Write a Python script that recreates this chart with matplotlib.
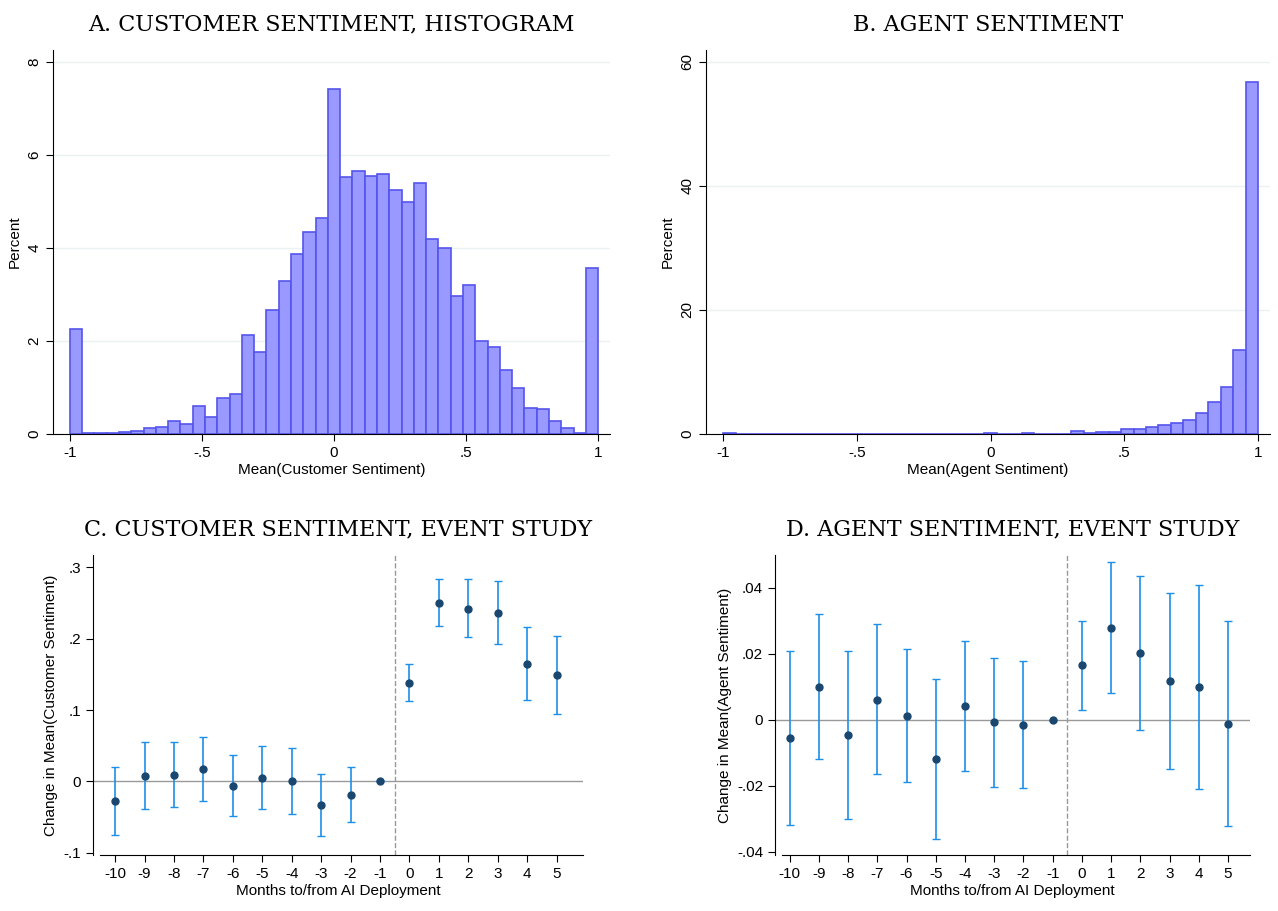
import numpy as np
import matplotlib.pyplot as plt

# Panel A: customer sentiment histogram (43 bins on [-1, 1])
cust_pct = [2.25, 0.03, 0.03, 0.03, 0.05, 0.07, 0.12, 0.16, 0.27, 0.22, 0.61, 0.37, 0.78, 0.86,
            2.12, 1.77, 2.66, 3.30, 3.87, 4.35, 4.65, 7.43, 5.52, 5.66, 5.54, 5.60, 5.25, 5.00,
            5.39, 4.20, 4.00, 2.97, 3.21, 2.00, 1.88, 1.38, 1.00, 0.57, 0.53, 0.29, 0.12, 0.03, 3.58]

# Panel B: agent sentiment histogram (43 bins on [-1, 1])
agent_pct = [0.2, 0.0, 0.0, 0.05, 0.05, 0.0, 0.05, 0.05, 0.05, 0.05, 0.05, 0.05, 0.05, 0.05,
             0.05, 0.05, 0.05, 0.05, 0.05, 0.05, 0.05, 0.2, 0.05, 0.05, 0.2, 0.05, 0.05, 0.5,
             0.2, 0.3, 0.3, 0.8, 0.8, 1.2, 1.5, 1.8, 2.3, 3.4, 5.2, 7.6, 13.6, 56.7]
agent_pct = agent_pct[:27] + [0.05] + agent_pct[27:]

months = np.arange(-10, 6)

# Panel C: customer sentiment event study
cust_est = [-0.028, 0.008, 0.009, 0.017, -0.006, 0.005, 0.0, -0.033, -0.019, 0.0,
            0.138, 0.250, 0.242, 0.236, 0.165, 0.149]
cust_hi = [0.020, 0.055, 0.055, 0.062, 0.037, 0.049, 0.047, 0.011, 0.020, 0.0,
           0.164, 0.284, 0.283, 0.280, 0.216, 0.204]
cust_lo = [-0.075, -0.038, -0.036, -0.028, -0.049, -0.039, -0.045, -0.076, -0.057, 0.0,
           0.112, 0.217, 0.202, 0.192, 0.114, 0.095]

# Panel D: agent sentiment event study
agent_est = [-0.0055, 0.010, -0.0045, 0.006, 0.0013, -0.012, 0.0043, -0.0008, -0.0015, 0.0,
             0.0165, 0.028, 0.0203, 0.0117, 0.010, -0.0012]
agent_hi = [0.021, 0.032, 0.021, 0.029, 0.0215, 0.0125, 0.024, 0.0187, 0.0177, 0.0,
            0.030, 0.048, 0.0435, 0.0385, 0.041, 0.030]
agent_lo = [-0.032, -0.012, -0.030, -0.0165, -0.019, -0.036, -0.0155, -0.0203, -0.0207, 0.0,
            0.003, 0.008, -0.003, -0.015, -0.021, -0.0323]

plt.rcParams['font.family'] = ['Liberation Sans', 'DejaVu Sans']
plt.rcParams['axes.unicode_minus'] = False
fig = plt.figure(figsize=(12.78, 9.11), dpi=100)
W, H = 1278, 911

def box(l, t, r, b):
    return [l / W, 1 - b / H, (r - l) / W, (b - t) / H]

def style(ax):
    ax.spines['top'].set_visible(False)
    ax.spines['right'].set_visible(False)
    ax.tick_params(labelsize=11, direction='out', length=5)
    ax.yaxis.grid(True, color='#eaf2f3', lw=1)
    ax.set_axisbelow(True)

def title(ax, s):
    ax.set_title(s, family='DejaVu Serif', fontsize=16, pad=14)

edges = np.linspace(-1, 1, 44)
fmt = lambda v: ('%g' % v).replace('0.', '.') if v != 0 else '0'

for pos, vals, ymax, yt, xl, tt in [
        (box(53, 50, 610, 434), cust_pct, 8.26, [0, 2, 4, 6, 8], 'Mean(Customer Sentiment)',
         'A. CUSTOMER SENTIMENT, HISTOGRAM'),
        (box(706, 50, 1270, 434), agent_pct, 61.9, [0, 20, 40, 60], 'Mean(Agent Sentiment)',
         'B. AGENT SENTIMENT')]:
    ax = fig.add_axes(pos)
    style(ax)
    ax.bar(edges[:-1], vals, width=np.diff(edges), align='edge', color='#9999ff',
           edgecolor='#5555ee', lw=1.2)
    ax.set_xlim(-1.064, 1.045)
    ax.set_ylim(0, ymax)
    ax.set_yticks(yt)
    ax.set_xticks([-1, -0.5, 0, 0.5, 1])
    ax.set_xticklabels([fmt(v) for v in [-1, -0.5, 0, 0.5, 1]])
    for lab in ax.get_yticklabels():
        lab.set_rotation(90)
        lab.set_va('center')
    ax.set_ylabel('Percent', fontsize=11)
    ax.set_xlabel(xl, fontsize=11, labelpad=2)
    title(ax, tt)

for pos, est, lo, hi, ylim, xlim, yt, ylab, tt in [
        (box(93, 555, 583, 855), cust_est, cust_lo, cust_hi, (-0.103, 0.317), (-10.75, 5.9),
         [-0.1, 0, 0.1, 0.2, 0.3], 'Change in Mean(Customer Sentiment)',
         'C. CUSTOMER SENTIMENT, EVENT STUDY'),
        (box(775, 555, 1250, 855), agent_est, agent_lo, agent_hi, (-0.041, 0.05), (-10.5, 5.75),
         [-0.04, -0.02, 0, 0.02, 0.04], 'Change in Mean(Agent Sentiment)',
         'D. AGENT SENTIMENT, EVENT STUDY')]:
    ax = fig.add_axes(pos)
    style(ax)
    ax.yaxis.grid(False)
    est = np.array(est)
    ax.axhline(0, color='#999999', lw=1)
    ax.axvline(-0.5, color='#999999', lw=1, ls='--')
    ax.errorbar(months, est, yerr=[est - np.array(lo), np.array(hi) - est], fmt='o',
                color='#1a476f', ecolor='#1e8fe8', elinewidth=1.2, capsize=3, ms=5)
    ax.set_xlim(*xlim)
    ax.set_ylim(*ylim)
    ax.set_xticks(months)
    ax.set_yticks(yt)
    ax.set_yticklabels([fmt(v) for v in yt])
    ax.spines['bottom'].set_bounds(xlim[0] + 0.25, xlim[1])
    ax.set_ylabel(ylab, fontsize=11)
    ax.set_xlabel('Months to/from AI Deployment', fontsize=11, labelpad=2)
    title(ax, tt)

fig.savefig('out.png', dpi=100)
